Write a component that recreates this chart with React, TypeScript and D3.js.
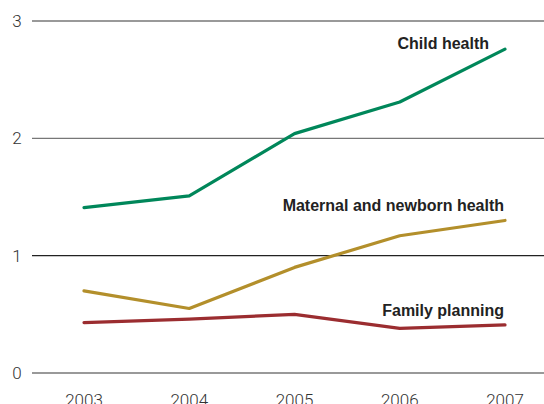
import * as d3 from "d3";
import { useEffect, useRef } from "react";

const years = [2003, 2004, 2005, 2006, 2007];
const childHealth = [1.41, 1.51, 2.04, 2.31, 2.76];
const maternalHealth = [0.7, 0.55, 0.9, 1.17, 1.3];
const familyPlanning = [0.43, 0.46, 0.5, 0.38, 0.41];
const yTicks = [0, 1, 2, 3];

const seriesNames = ["Child health", "Maternal and newborn health", "Family planning"];
const seriesColors = ["#00875a", "#b38f2b", "#9b2d30"];

export default function App() {
    const ref = useRef(null);
    const width = 544,
        height = 404;

    useEffect(() => {
        const svg = d3.select(ref.current);
        svg.selectAll("*").remove();

        const x = d3.scalePoint<number>()
            .domain(years)
            .range([84, 505]);

        const y = d3.scaleLinear()
            .domain([0, 3])
            .range([373, 21]);

        // gridlines
        svg.selectAll("line.grid")
            .data(yTicks)
            .join("line")
            .attr("class", "grid")
            .attr("x1", 32)
            .attr("x2", width)
            .attr("y1", d => y(d))
            .attr("y2", d => y(d))
            .attr("stroke", d => d === 1 ? "#222" : "#777")
            .attr("stroke-width", 1.3);

        svg.selectAll("text.ytick")
            .data(yTicks)
            .join("text")
            .attr("class", "ytick")
            .attr("x", 17)
            .attr("y", d => y(d))
            .attr("dy", "0.36em")
            .attr("text-anchor", "middle")
            .style("font-family", "Roboto, 'Liberation Sans', sans-serif")
            .style("font-weight", 300)
            .style("font-size", "17px")
            .attr("fill", "#333")
            .text(d => d);

        svg.selectAll("text.xtick")
            .data(years)
            .join("text")
            .attr("class", "xtick")
            .attr("x", d => x(d)!)
            .attr("y", 406)
            .attr("text-anchor", "middle")
            .style("font-family", "Roboto, 'Liberation Sans', sans-serif")
            .style("font-weight", 300)
            .style("font-size", "17px")
            .attr("fill", "#333")
            .text(d => d);

        const series = [childHealth, maternalHealth, familyPlanning];
        const line = d3.line<number>()
            .x((_d, i) => x(years[i])!)
            .y(d => y(d));

        svg.selectAll("path.series")
            .data(series)
            .join("path")
            .attr("class", "series")
            .attr("d", d => line(d))
            .attr("fill", "none")
            .attr("stroke", (_d, i) => seriesColors[i])
            .attr("stroke-width", 3.2)
            .attr("stroke-linecap", "round")
            .attr("stroke-linejoin", "round");

        // labels sit above the last point of each series
        const labelOffsets = [-5, -9, -9];
        const labelEnds = [489, 504, 504];
        svg.selectAll("text.label")
            .data(series)
            .join("text")
            .attr("class", "label")
            .attr("x", (_d, i) => labelEnds[i])
            .attr("y", (d, i) => i === 0 ? 49 : y(d[4]) + labelOffsets[i])
            .attr("text-anchor", "end")
            .style("font-family", "'Liberation Sans', Arial, sans-serif")
            .style("font-weight", "bold")
            .style("font-size", "16px")
            .attr("fill", "#222")
            .text((_d, i) => seriesNames[i]);
    }, []);

    return (
        <svg ref={ref} width={width} height={height}
            style={{ position: "absolute", left: 0, top: 0, background: "#fff" }} />
    );
}
